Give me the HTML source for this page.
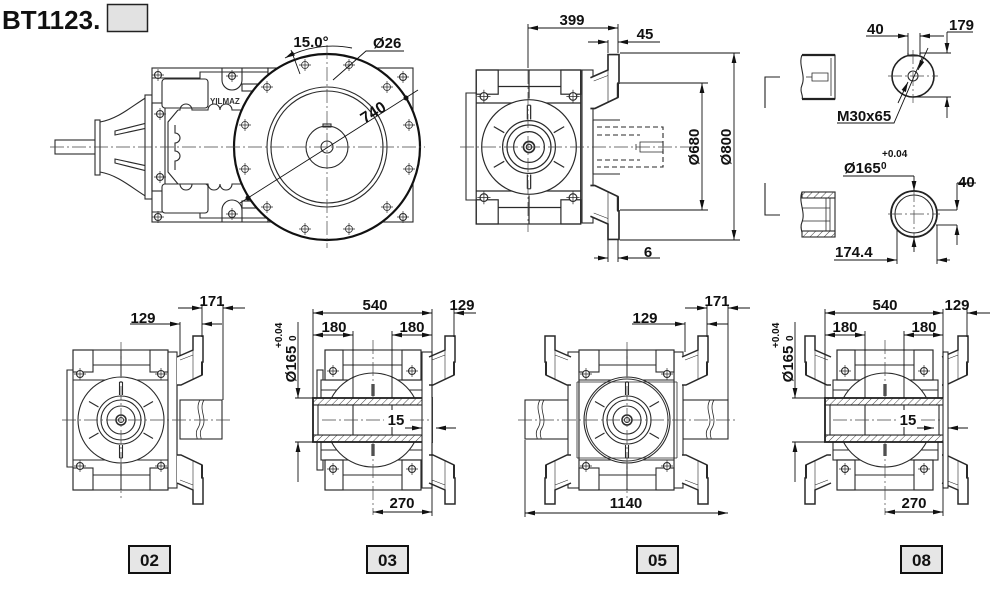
<!DOCTYPE html>
<html><head><meta charset="utf-8">
<style>
html,body{margin:0;padding:0;background:#fff}
svg{display:block}
text{font-family:"Liberation Sans",Arial,sans-serif;font-weight:bold;fill:#111;font-size:15px}
.d{stroke:#111;stroke-width:0.9;fill:none}
.c{stroke:#444;stroke-width:0.7;stroke-dasharray:14,3,2,3;fill:none}
</style></head><body>
<svg width="1000" height="600" viewBox="0 0 1000 600" xmlns="http://www.w3.org/2000/svg" xmlns:xlink="http://www.w3.org/1999/xlink">
<defs>
 <marker id="a" viewBox="0 0 10 6" markerWidth="10" markerHeight="6" refX="10" refY="3" orient="auto-start-reverse" markerUnits="userSpaceOnUse"><path d="M0,0.6L10,3L0,5.4z" fill="#111"/></marker>
 <pattern id="ht" width="5" height="5" patternUnits="userSpaceOnUse" patternTransform="rotate(45)"><rect width="5" height="5" fill="#fff"/><line x1="0" y1="0" x2="0" y2="5" stroke="#444" stroke-width="1"/></pattern>
 <g id="hole"><circle r="3.5" fill="#fff"/><path d="M-6,0H6M0,-6V6" stroke-width="0.7"/></g>
 <g id="front">
  <rect x="-48" y="-70" width="95" height="140" fill="#fff"/>
  <rect x="-48" y="-70" width="20" height="22"/>
  <rect x="29" y="-70" width="18" height="22"/>
  <rect x="-48" y="48" width="20" height="22"/>
  <rect x="29" y="48" width="18" height="22"/>
  <path d="M-28,-55H29M-48,-40H47M-28,55H29M-48,40H47M0,-70V-44M0,70V44"/>
  <use href="#hole" x="-41" y="-46"/><use href="#hole" x="40" y="-46"/>
  <use href="#hole" x="-41" y="46"/><use href="#hole" x="40" y="46"/>
  <circle r="43" fill="#fff"/>
  <circle r="24"/><circle r="20"/><circle r="14"/><circle r="5" stroke-width="1.5"/><circle r="2.5"/>
  <path d="M-1.5,-38V-25M1.5,-38V-25M-1.5,38V25M1.5,38V25M-1.5,-38H1.5M-1.5,38H1.5"/>
  <path d="M22.5,13L32,18.5M-22.5,13L-32,18.5M22.5,-13L32,-18.5M-22.5,-13L-32,-18.5"/>
 </g>
 <g id="fl">
  <path d="M-16,-63L0,-70L0,-84L10,-84L10,-58L9,-58L9,-45L-12,-35L-16,-35" fill="#fff" stroke-width="1.5"/>
  <path d="M-16,63L0,70L0,84L10,84L10,58L9,58L9,45L-12,35L-16,35" fill="#fff" stroke-width="1.5"/>
  <path d="M9,-58V-45M9,58V45" stroke-width="2"/>
  <path d="M-13,-60L0,-65M-13,60L0,65M0,-70V-40M0,70V40M7,-44L-10,-36M7,44L-10,36" stroke-width="0.6"/>
 </g>
 <g id="side">
  <rect x="-52" y="-40" width="105" height="80" fill="#fff"/>
  <rect x="-48" y="-70" width="96" height="30" fill="#fff"/>
  <rect x="-48" y="40" width="96" height="30" fill="#fff"/>
  <rect x="-48" y="-70" width="18" height="30"/><rect x="29" y="-70" width="19" height="30"/>
  <rect x="-48" y="40" width="18" height="30"/><rect x="29" y="40" width="19" height="30"/>
  <path d="M-30,-55H29M-30,55H29M-52,-30H53M-52,30H53"/>
  <use href="#hole" x="-40" y="-49"/><use href="#hole" x="39" y="-49"/>
  <use href="#hole" x="-40" y="49"/><use href="#hole" x="39" y="49"/>
  <circle r="47" fill="#fff"/>
  <path d="M-1,-36V-24M1,-36V-24M-1,36V24M1,36V24"/>
  <rect x="-60" y="-22" width="119" height="7" fill="url(#ht)"/>
  <rect x="-60" y="15" width="119" height="7" fill="url(#ht)"/>
  <rect x="-60" y="-15" width="119" height="30" fill="#fff"/>
  <rect x="-60" y="-22" width="119" height="44" fill="none" stroke-width="1.8" stroke="#222"/>
  <path d="M-20,-15V15M19,-15V15M-55,-15V15M54,-15V15"/>
 </g>
</defs>

<!-- Title -->
<text x="2" y="29" style="font-size:26px">BT1123.</text>
<rect x="107.5" y="4.5" width="40" height="27" fill="#e2e2e2" stroke="#222" stroke-width="1.5"/>

<!-- ================= VIEW 1 (top-left) ================= -->
<g stroke="#2a2a2a" fill="none" stroke-width="1.1">
 <rect x="55" y="140" width="42" height="14" fill="#fff"/>
 <rect x="95" y="120" width="5" height="55" fill="#fff"/>
 <path d="M100,122 C118,119 132,106 147,97 M100,172 C118,175 132,188 147,197"/>
 <path d="M115,131 L147,123 L147,128 L115,135z M115,159 L147,166 L147,171 L115,163z"/>
 <rect x="145" y="95" width="7" height="104" fill="#fff"/>
 <rect x="152" y="68" width="116" height="154" fill="#fff"/>
 <path d="M152,78H200V72H268M152,212H200V218H268"/>
 <rect x="152" y="103" width="13" height="88"/>
 <rect x="162" y="79" width="46" height="29" rx="3" fill="#fff"/>
 <rect x="162" y="184" width="46" height="29" rx="3" fill="#fff"/>
 <use href="#hole" x="158" y="75"/><use href="#hole" x="158" y="217"/>
 <use href="#hole" x="160" y="114"/><use href="#hole" x="160" y="177"/>
 <path d="M222,68V80A9,9 0 0 0 242,80V68M222,222V210A9,9 0 0 1 242,210V222"/>
 <use href="#hole" x="232" y="76"/><use href="#hole" x="232" y="214"/>
 <rect x="242" y="84" width="20" height="7"/><rect x="242" y="201" width="20" height="7"/>
 <path d="M178,110H180A6,6 0 0 1 192,110H208A6,6 0 0 1 220,110A6,6 0 0 1 232,110H245M178,184H180A6,6 0 0 0 192,184H208A6,6 0 0 0 220,184A6,6 0 0 0 232,184H245M178,110L168,122V172L178,184"/>
 <path d="M175,125V133A5,5 0 0 1 175,143V151A5,5 0 0 1 175,161V170"/>
 <text x="210" y="104" style="font-size:8px;fill:#333;stroke:none">YILMAZ</text>
 <rect x="268" y="68" width="145" height="154" fill="#fff"/>
 <use href="#hole" x="403" y="77"/><use href="#hole" x="403" y="217"/>
 <circle cx="327" cy="147" r="93" fill="#fff" stroke="#111" stroke-width="2.2"/>
 <circle cx="327" cy="147" r="60"/><circle cx="327" cy="147" r="56"/>
 <circle cx="327" cy="147" r="21"/><circle cx="327" cy="147" r="6"/>
 <rect x="323" y="124" width="8" height="3"/>
 <g stroke-width="0.8">
  <use href="#hole" x="305" y="65"/><use href="#hole" x="349" y="65"/>
  <use href="#hole" x="387" y="87"/><use href="#hole" x="409" y="125"/>
  <use href="#hole" x="409" y="169"/><use href="#hole" x="387" y="207"/>
  <use href="#hole" x="349" y="229"/><use href="#hole" x="305" y="229"/>
  <use href="#hole" x="267" y="207"/><use href="#hole" x="245" y="169"/>
  <use href="#hole" x="245" y="125"/><use href="#hole" x="267" y="87"/>
 </g>
</g>
<path class="c" d="M50,147H425M327,45V248"/>
<path class="d" d="M240,203L418,90"/>
<circle cx="248" cy="198" r="2.5" fill="#111"/><circle cx="406" cy="98" r="2.5" fill="#111"/>
<text transform="translate(376,117) rotate(-32.5)" text-anchor="middle" style="font-size:16px">740</text>
<path class="d" d="M285,58 A101,101 0 0 1 352,48" marker-start="url(#a)"/>
<path class="d" d="M300,74L291,50"/>
<text x="311" y="47" text-anchor="middle">15.0°</text>
<path class="d" d="M333,80L366,51H404"/>
<text x="373" y="48">Ø26</text>

<!-- ================= VIEW 2 (top middle) ================= -->
<g stroke="#2a2a2a" fill="none" stroke-width="1.1">
 <path d="M476,93H466V200H476"/>
 <use href="#front" transform="translate(529,147) scale(1.1)"/>
 <rect x="582" y="70" width="11" height="153" fill="#fff"/>
 <use href="#fl" transform="translate(608,147) scale(1.1)"/>
 <path d="M593,120H620M593,174H620M593,120V174"/>
 <path d="M597,127H663V167H597M597,135H640M597,160H640" stroke-dasharray="5,3"/>
 <path d="M640,142H663V152H640z M636,144V150" stroke-width="0.8"/>
</g>
<path class="c" d="M460,147H700M528,70V232"/>
<path class="d" d="M528,24V68M618,24V53M608,40V53"/>
<path class="d" d="M528,28H618" marker-start="url(#a)" marker-end="url(#a)"/>
<text x="572" y="25" text-anchor="middle">399</text>
<path class="d" d="M588,42H608" marker-end="url(#a)"/>
<path class="d" d="M660,42H618" marker-end="url(#a)"/>
<text x="645" y="39" text-anchor="middle">45</text>
<path class="d" d="M620,83H708M620,210H708M620,53H740M620,240H740"/>
<path class="d" d="M702,83V210" marker-start="url(#a)" marker-end="url(#a)"/>
<path class="d" d="M734,53V240" marker-start="url(#a)" marker-end="url(#a)"/>
<text transform="translate(699,147) rotate(-90)" text-anchor="middle">Ø680</text>
<text transform="translate(731,147) rotate(-90)" text-anchor="middle">Ø800</text>
<path class="d" d="M608,240V262M618,240V262"/>
<path class="d" d="M594,258H608" marker-end="url(#a)"/>
<path class="d" d="M660,258H618" marker-end="url(#a)"/>
<text x="648" y="257" text-anchor="middle">6</text>

<!-- ================= TOP RIGHT ================= -->
<g stroke="#2a2a2a" fill="none" stroke-width="1.1">
 <path d="M780,77H765V108M765,183V215H780" stroke="#222"/>
 <path d="M802,55H835V99H802M802,55C798,65 806,75 802,85C799,92 804,96 802,99" fill="#fff"/>
 <path d="M802,55H835M802,99H835" stroke-width="2.2" stroke="#222"/>
 <path d="M831,58V96M812,73H828V81H812z M806,77H812" stroke-width="0.8"/>
 <path d="M802,192H835V237H802M802,192C798,202 806,212 802,222C799,229 804,234 802,237" fill="#fff"/>
 <rect x="802" y="192" width="33" height="6" fill="url(#ht)"/>
 <rect x="802" y="231" width="33" height="6" fill="url(#ht)"/>
 <path d="M802,192H835V237H802M830,198V231M826,198V231M802,208H830M802,221H830" stroke-width="0.8"/>
 <circle cx="913" cy="76" r="21" fill="#fff" stroke="#222" stroke-width="1.6"/>
 <circle cx="913" cy="76" r="5"/>
 <path d="M908,53V56H920V53"/>
 <path d="M936,210H957M936,225H957" />
 <circle cx="914" cy="214" r="23" fill="#fff" stroke="#222" stroke-width="1.8"/>
 <circle cx="914" cy="214" r="19"/>
</g>
<path class="c" d="M913,50V103M888,76H938M914,188V242M888,214H940"/>
<path class="d" d="M908,33V55M920,33V55"/>
<path class="d" d="M866,36H908" marker-end="url(#a)"/>
<path class="d" d="M944,36H920" marker-end="url(#a)"/>
<text x="867" y="34">40</text>
<path class="d" d="M920,53H951M913,97H951M947,32H973"/>
<path class="d" d="M947,32V53" marker-end="url(#a)"/>
<path class="d" d="M947,118V97" marker-end="url(#a)"/>
<text x="949" y="30">179</text>
<path class="d" d="M837,123H894L922,58"/>
<path class="d" d="M928,48L918,70" marker-end="url(#a)"/>
<path class="d" d="M898,103L908,82" marker-end="url(#a)"/>
<text x="837" y="121">M30x65</text>
<path class="d" d="M843,176H914"/>
<path class="d" d="M914,176V191" marker-end="url(#a)"/>
<path class="d" d="M914,252V237" marker-end="url(#a)"/>
<text x="844" y="173">Ø165</text>
<text x="882" y="157" style="font-size:10px">+0.04</text>
<text x="881" y="169" style="font-size:10px">0</text>
<path class="d" d="M957,183H976"/>
<path class="d" d="M957,183V210" marker-end="url(#a)"/>
<path class="d" d="M957,245V225" marker-end="url(#a)"/>
<text x="958" y="187">40</text>
<path class="d" d="M897,230V264M937,225V264"/>
<path class="d" d="M834,260H897" marker-end="url(#a)"/>
<path class="d" d="M950,260H937" marker-end="url(#a)"/>
<text x="835" y="257">174.4</text>

<!-- ================= VIEW 02 ================= -->
<g stroke="#2a2a2a" fill="none" stroke-width="1.1">
 <path d="M73,370H67V467H73"/>
 <use href="#front" transform="translate(121,420)"/>
 <rect x="180" y="400" width="42" height="39" fill="#fff"/>
 <path d="M200,400C194,410 204,418 198,428C194,434 198,438 197,439M204,400C198,410 208,418 202,428C198,434 202,438 201,439" stroke-width="0.8"/>
 <rect x="168" y="352" width="9" height="136" fill="#fff"/>
 <use href="#fl" transform="translate(193,420)"/>
 <path d="M177,385V455"/>
</g>
<path class="c" d="M62,420H230M121,342V498"/>
<path class="d" d="M180,322V356M202,304V337M223,304V400"/>
<path class="d" d="M130,324H180" marker-end="url(#a)"/>
<path class="d" d="M222,324H202" marker-end="url(#a)"/>
<text x="143" y="323" text-anchor="middle">129</text>
<path class="d" d="M178,308H202" marker-end="url(#a)"/>
<path class="d" d="M245,308H223" marker-end="url(#a)"/>
<text x="212" y="306" text-anchor="middle">171</text>

<!-- ================= VIEW 03 ================= -->
<g stroke="#2a2a2a" fill="none" stroke-width="1.1">
 <rect x="317" y="370" width="6" height="100" fill="#fff"/>
 <use href="#side" transform="translate(373,420)"/>
 <rect x="422" y="352" width="10" height="136" fill="#fff"/>
 <use href="#fl" transform="translate(445,420)"/>
</g>
<path class="c" d="M322,420H430M373,340V398M373,442V515"/>
<path class="d" d="M313,309V398M432,309V398M454,309V337M353,331V398M392,331V398"/>
<path class="d" d="M313,313H432" marker-start="url(#a)" marker-end="url(#a)"/>
<path class="d" d="M476,313H454" marker-end="url(#a)"/>
<text x="375" y="310" text-anchor="middle">540</text>
<text x="462" y="310" text-anchor="middle">129</text>
<path class="d" d="M313,335H353" marker-start="url(#a)" marker-end="url(#a)"/>
<path class="d" d="M392,335H432" marker-start="url(#a)" marker-end="url(#a)"/>
<text x="334" y="332" text-anchor="middle">180</text>
<text x="412" y="332" text-anchor="middle">180</text>
<rect x="384" y="410" width="24" height="17" fill="#fff"/>
<text x="396" y="425" text-anchor="middle">15</text>
<path class="d" d="M405,428H422" marker-end="url(#a)"/>
<path class="d" d="M456,428H436" marker-end="url(#a)"/>
<path class="d" d="M432,442V516"/>
<path class="d" d="M373,512H432" marker-start="url(#a)" marker-end="url(#a)"/>
<text x="402" y="508" text-anchor="middle">270</text>
<path class="d" d="M295,398H313M295,442H313"/>
<path class="d" d="M298,322V398" marker-end="url(#a)"/>
<path class="d" d="M298,482V442" marker-end="url(#a)"/>
<text transform="translate(296,364) rotate(-90)" text-anchor="middle">Ø165</text>
<text transform="translate(296,341) rotate(-90)" style="font-size:10px">0</text>
<text transform="translate(282,348) rotate(-90)" style="font-size:10px">+0.04</text>

<!-- ================= VIEW 05 ================= -->
<g stroke="#2a2a2a" fill="none" stroke-width="1.1">
 <rect x="525" y="400" width="43" height="39" fill="#fff"/>
 <rect x="683" y="400" width="45" height="39" fill="#fff"/>
 <path d="M540,400C534,410 544,418 538,428C534,434 538,438 537,439M544,400C538,410 548,418 542,428C538,434 542,438 541,439M710,400C704,410 714,418 708,428C704,434 708,438 707,439M714,400C708,410 718,418 712,428C708,434 712,438 711,439" stroke-width="0.8"/>
 <rect x="568" y="352" width="11" height="136" fill="#fff"/>
 <rect x="674" y="352" width="9" height="136" fill="#fff"/>
 <use href="#front" transform="translate(627,420)"/>
 <path d="M577,382V458M677,382V458M577,382H677M577,458H677" stroke-width="0.8"/>
 <use href="#fl" transform="translate(555,420) scale(-1,1)"/>
 <use href="#fl" transform="translate(698,420)"/>
</g>
<circle cx="627" cy="420" r="41" fill="none" stroke="#333"/>
<path class="c" d="M518,420H735M627,342V498"/>
<path class="d" d="M525,440V517M728,305V400M707,305V337M685,322V352"/>
<path class="d" d="M525,513H728" marker-start="url(#a)" marker-end="url(#a)"/>
<text x="626" y="508" text-anchor="middle">1140</text>
<path class="d" d="M632,324H685" marker-end="url(#a)"/>
<path class="d" d="M728,324H707" marker-end="url(#a)"/>
<text x="645" y="323" text-anchor="middle">129</text>
<path class="d" d="M685,308H707" marker-end="url(#a)"/>
<path class="d" d="M750,308H728" marker-end="url(#a)"/>
<text x="717" y="306" text-anchor="middle">171</text>

<!-- ================= VIEW 08 ================= -->
<g stroke="#2a2a2a" fill="none" stroke-width="1.1">
 <use href="#fl" transform="translate(815,420) scale(-1,1)"/>
 <use href="#fl" transform="translate(958,420)"/>
 <use href="#side" transform="translate(885,420)"/>
 <rect x="943" y="352" width="5" height="136" fill="#fff"/>
</g>
<path class="c" d="M833,420H942M885,340V398M885,442V515"/>
<path class="d" d="M825,309V398M943,309V398M967,309V337M865,331V398M904,331V398"/>
<path class="d" d="M825,313H943" marker-start="url(#a)" marker-end="url(#a)"/>
<path class="d" d="M990,313H967" marker-end="url(#a)"/>
<text x="885" y="310" text-anchor="middle">540</text>
<text x="957" y="310" text-anchor="middle">129</text>
<path class="d" d="M825,335H865" marker-start="url(#a)" marker-end="url(#a)"/>
<path class="d" d="M904,335H943" marker-start="url(#a)" marker-end="url(#a)"/>
<text x="845" y="332" text-anchor="middle">180</text>
<text x="924" y="332" text-anchor="middle">180</text>
<rect x="896" y="410" width="24" height="17" fill="#fff"/>
<text x="908" y="425" text-anchor="middle">15</text>
<path class="d" d="M917,428H934" marker-end="url(#a)"/>
<path class="d" d="M968,428H948" marker-end="url(#a)"/>
<path class="d" d="M943,442V516"/>
<path class="d" d="M885,512H943" marker-start="url(#a)" marker-end="url(#a)"/>
<text x="914" y="508" text-anchor="middle">270</text>
<path class="d" d="M792,398H825M792,442H825"/>
<path class="d" d="M795,322V398" marker-end="url(#a)"/>
<path class="d" d="M795,482V442" marker-end="url(#a)"/>
<text transform="translate(793,364) rotate(-90)" text-anchor="middle">Ø165</text>
<text transform="translate(793,341) rotate(-90)" style="font-size:10px">0</text>
<text transform="translate(779,348) rotate(-90)" style="font-size:10px">+0.04</text>

<!-- ================= LABEL BOXES ================= -->
<g fill="#e6e6e6" stroke="#111" stroke-width="2">
 <rect x="129" y="546" width="41" height="27"/>
 <rect x="367" y="546" width="41" height="27"/>
 <rect x="637" y="546" width="41" height="27"/>
 <rect x="901" y="546" width="41" height="27"/>
</g>
<text x="149.5" y="566" text-anchor="middle" style="font-size:17px">02</text>
<text x="387.5" y="566" text-anchor="middle" style="font-size:17px">03</text>
<text x="657.5" y="566" text-anchor="middle" style="font-size:17px">05</text>
<text x="921.5" y="566" text-anchor="middle" style="font-size:17px">08</text>
</svg>
</body></html>
